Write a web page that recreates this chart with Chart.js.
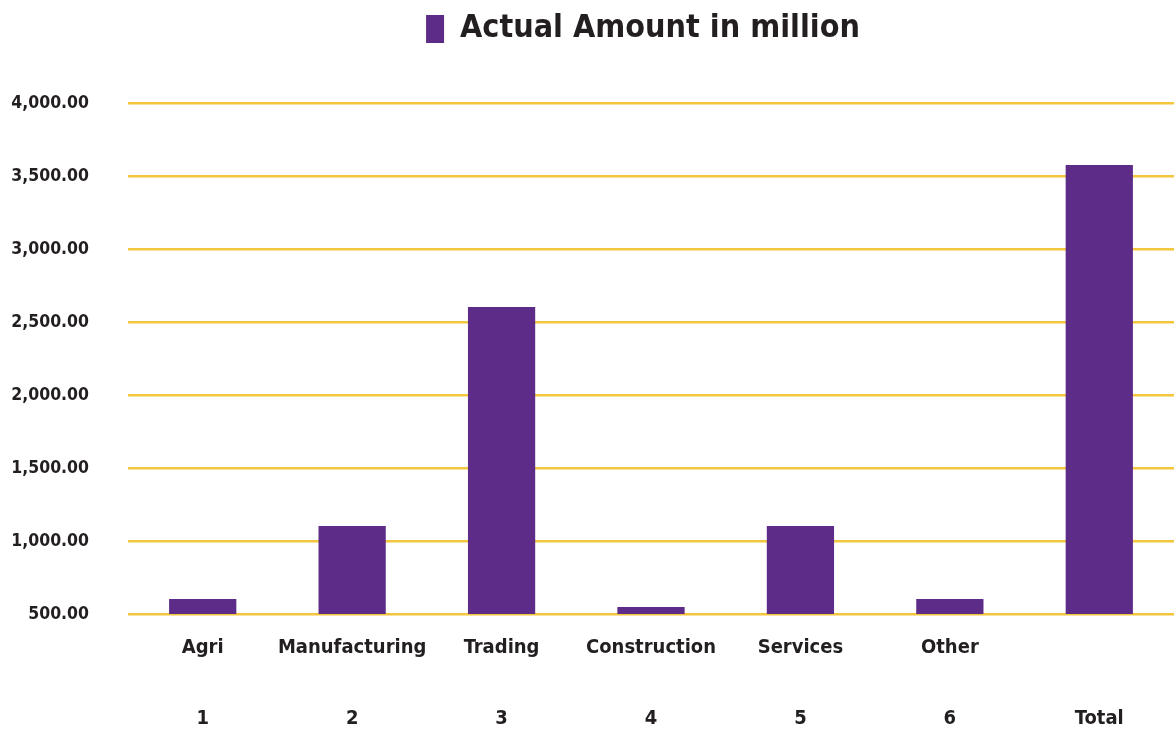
<!DOCTYPE html>
<html>
<head>
<meta charset="utf-8">
<script src="https://cdn.jsdelivr.net/npm/chart.js@4"></script>
<style>
  html, body { margin: 0; padding: 0; background: #fff; }
  #wrap { width: 1174px; height: 729px; }
</style>
</head>
<body>
<div id="wrap"><canvas id="amountChart"></canvas></div>
<script>
// category names (first label row) and numbers (second label row)
var sectorNames = ["Agri", "Manufacturing", "Trading", "Construction", "Services", "Other", ""];
var sectorNumbers = ["1", "2", "3", "4", "5", "6", "Total"];
var actualAmount = [603, 1103, 2603, 548, 1103, 603, 3575];
var yTicks = [500, 1000, 1500, 2000, 2500, 3000, 3500, 4000];

var FONT = "'Liberation Sans Narrow', 'DejaVu Sans Condensed', 'Arial Narrow', sans-serif";

var labels = sectorNames.map(function(name, i) {
    return [name, sectorNumbers[i]];
});

// push legend down a bit and leave room above the plot
var legendSpacing = {
    id: 'legendSpacing',
    beforeInit: function(chart) {
        var fit = chart.legend.fit;
        chart.legend.fit = function() {
            fit.bind(chart.legend)();
            this.height += 48;
        };
    },
    afterLayout: function(chart) {
        // legend sits a little right of the middle in the original
        chart.legend.left += 104;
    }
};

var ctx = document.getElementById('amountChart').getContext('2d');
var chart = new Chart(ctx, {
    type: 'bar',
    data: {
        labels: labels,
        datasets: [{
            label: 'Actual Amount in million',
            data: actualAmount,
            backgroundColor: '#5c2c88',
            borderWidth: 0,
            barPercentage: 0.45,
            categoryPercentage: 1.0
        }]
    },
    plugins: [legendSpacing],
    options: {
        responsive: true,
        maintainAspectRatio: false,
        animation: false,
        layout: { padding: { top: 7, right: 0, left: 8, bottom: 0 } },
        plugins: {
            tooltip: { enabled: false },
            legend: {
                display: true,
                position: 'top',
                labels: {
                    color: '#231f20',
                    boxWidth: 18,
                    boxHeight: 28,
                    padding: 6,
                    font: { family: FONT, size: 32, weight: 'bold' }
                }
            }
        },
        scales: {
            x: {
                offset: true,
                grid: { display: false },
                border: { display: false },
                afterFit: function(axis) { axis.height = 115; },
                ticks: {
                    color: '#231f20',
                    maxRotation: 0,
                    autoSkip: false,
                    padding: -10,
                    font: { family: FONT, size: 20, weight: 'bold', lineHeight: 3.55 }
                }
            },
            y: {
                min: 500,
                max: 4000,
                afterBuildTicks: function(axis) {
                    axis.ticks = yTicks.map(function(v) { return { value: v }; });
                },
                afterFit: function(axis) { axis.width = 120; },
                grid: {
                    color: '#f4c63d',
                    lineWidth: 2.5,
                    drawTicks: false
                },
                border: { display: false },
                ticks: {
                    color: '#231f20',
                    padding: 39,
                    font: { family: FONT, size: 17.5, weight: 'bold' },
                    callback: function(v) {
                        return v.toLocaleString('en-US', { minimumFractionDigits: 2, maximumFractionDigits: 2 });
                    }
                }
            }
        }
    }
});
</script>
</body>
</html>
